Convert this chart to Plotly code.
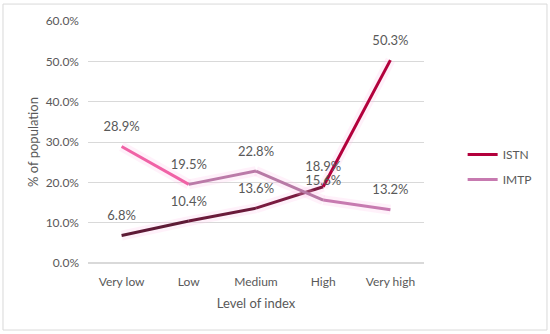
import plotly.graph_objects as go

categories = ["Very low", "Low", "Medium", "High", "Very high"]
istn = [6.8, 10.4, 13.6, 18.9, 50.3]
imtp = [28.9, 19.5, 22.8, 15.6, 13.2]
istn_colors = ["#5e1a36", "#6a1a3a", "#7a1a40", "#b3003c"]
imtp_colors = ["#f062a6", "#bb7aa8", "#b87aa6", "#c77ab0"]
yticks = [0, 10, 20, 30, 40, 50, 60]

FONT = "Lato, Open Sans, sans-serif"
GRAY = "#595959"

fig = go.Figure()

def add_series(name, vals, colors, lcolor):
    for i in range(len(vals) - 1):
        fig.add_trace(go.Scatter(
            x=categories[i:i + 2], y=vals[i:i + 2], mode="lines",
            line=dict(color="rgba(255,190,230,0.22)", width=10),
            showlegend=False, hoverinfo="skip"))
    for i in range(len(vals) - 1):
        fig.add_trace(go.Scatter(
            x=categories[i:i + 2], y=vals[i:i + 2], mode="lines",
            line=dict(color=colors[i], width=3),
            showlegend=False, legendgroup=name, hoverinfo="skip"))
    fig.add_trace(go.Scatter(
        x=[None], y=[None], mode="lines", name=name, legendgroup=name,
        line=dict(color=lcolor, width=3)))
    fig.add_trace(go.Scatter(
        x=categories, y=vals, mode="markers+text",
        marker=dict(size=18, opacity=0),
        text=[f"{v:.1f}%" for v in vals], textposition="top center",
        textfont=dict(family=FONT, size=13, color=GRAY),
        showlegend=False, hoverinfo="skip"))

add_series("ISTN", istn, istn_colors, "#b3003c")
add_series("IMTP", imtp, imtp_colors, "#c77ab0")

fig.update_layout(
    width=550, height=334,
    margin=dict(l=88, r=126, t=21, b=71),
    paper_bgcolor="white", plot_bgcolor="white",
    font=dict(family=FONT, size=12, color=GRAY),
    legend=dict(x=1.115, y=0.397, yanchor="middle", xanchor="left",
                font=dict(family=FONT, size=12, color=GRAY),
                tracegroupgap=6),
    shapes=[dict(type="rect", xref="paper", yref="paper",
                 x0=-0.253, x1=1.366, y0=-0.277, y1=1.07,
                 line=dict(color="#d9d9d9", width=1))],
)
fig.update_xaxes(
    categoryorder="array", categoryarray=categories,
    showgrid=False, showline=False, ticks="", automargin=False,
    ticklabelstandoff=10,
    tickfont=dict(size=12, color=GRAY),
    title=dict(text="Level of index", font=dict(size=13, color=GRAY), standoff=10),
    range=[-0.5, 4.5],
)
fig.update_yaxes(
    range=[0, 60], tickvals=yticks, automargin=False,
    ticktext=[f"{v:.1f}%" for v in yticks],
    gridcolor="#d9d9d9", gridwidth=1, zeroline=True, zerolinecolor="#d9d9d9",
    ticks="", ticklabelstandoff=8,
    tickfont=dict(size=12, color=GRAY),
    title=dict(text="% of population", font=dict(size=13, color=GRAY), standoff=4),
)

fig.write_html("out.html", config={"displayModeBar": False},
               post_script="document.body.style.margin='0';")
